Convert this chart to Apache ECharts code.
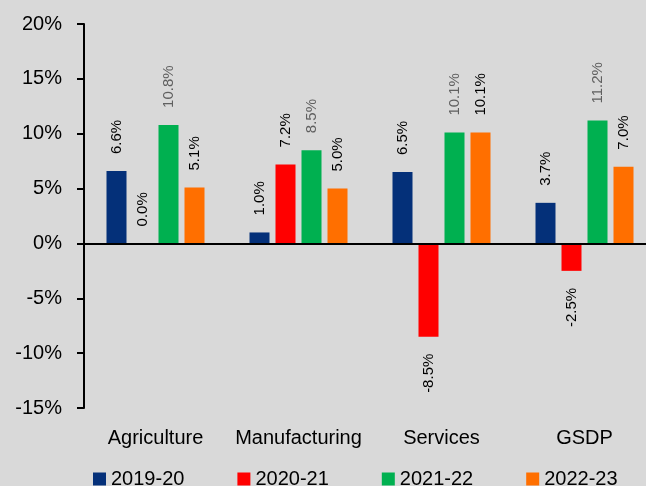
<!DOCTYPE html>
<html>
<head>
<meta charset="utf-8">
<script src="https://cdn.jsdelivr.net/npm/echarts@6/dist/echarts.min.js"></script>
<style>
html,body{margin:0;padding:0;background:#d9d9d9;overflow:hidden;width:646px;height:486px;}
#c{width:656px;height:486px;}
</style>
</head>
<body>
<div id="c"></div>
<script>
var categories = ['Agriculture', 'Manufacturing', 'Services', 'GSDP'];
var seriesNames = ['2019-20', '2020-21', '2021-22', '2022-23'];
var v2019 = [6.6, 1.0, 6.5, 3.7];
var v2020 = [0.0, 7.2, -8.5, -2.5];
var v2021 = [10.8, 8.5, 10.1, 11.2];
var v2022 = [5.1, 5.0, 10.1, 7.0];
var yTicks = [-15, -10, -5, 0, 5, 10, 15, 20];

var colors = ['#043079', '#ff0000', '#00b050', '#ff6f00'];
var labelColors = ['#000000', '#000000', '#606060', '#000000'];
var allValues = [v2019, v2020, v2021, v2022];
var FONT = 'Liberation Sans, Arial, sans-serif';

function buildData(vals) {
  return vals.map(function (v) {
    if (v < 0) {
      return { value: v, label: { position: 'bottom', align: 'right' } };
    }
    return { value: v };
  });
}

var series = seriesNames.map(function (name, i) {
  var s = {
    name: name,
    type: 'bar',
    barWidth: 20,
    barGap: '30%',
    itemStyle: { color: colors[i] },
    data: buildData(allValues[i]),
    label: {
      show: true,
      position: 'top',
      rotate: 90,
      align: 'left',
      verticalAlign: 'middle',
      distance: 17,
      fontFamily: FONT,
      fontSize: 15,
      color: labelColors[i],
      formatter: function (p) { return p.value.toFixed(1) + '%'; }
    }
  };
  if (i === 0) {
    s.markLine = {
      silent: true,
      symbol: ['none', 'none'],
      label: { show: false },
      lineStyle: { color: '#000', width: 2, type: 'solid' },
      data: [{ yAxis: 0 }]
    };
  }
  return s;
});

var chart = echarts.init(document.getElementById('c'));
chart.setOption({
  backgroundColor: '#d9d9d9',
  animation: false,
  grid: { left: 84, top: 24, bottom: 78, right: 0 },
  legend: {
    data: seriesNames,
    left: 88,
    top: 464,
    icon: 'rect',
    itemWidth: 13,
    itemHeight: 13,
    itemGap: 53,
    textStyle: { fontFamily: FONT, fontSize: 20, color: '#000' }
  },
  xAxis: {
    type: 'category',
    data: categories,
    axisLine: { show: false, onZero: false },
    axisTick: { show: false },
    axisLabel: { interval: 0, fontFamily: FONT, fontSize: 20, color: '#000', margin: 20 }
  },
  yAxis: {
    type: 'value',
    min: yTicks[0],
    max: yTicks[yTicks.length - 1],
    interval: 5,
    splitLine: { show: false },
    axisLine: { show: true, lineStyle: { color: '#000', width: 2 } },
    axisTick: { show: true, length: 7, lineStyle: { color: '#000', width: 2 } },
    axisLabel: {
      fontFamily: FONT, fontSize: 20, color: '#000', margin: 22,
      formatter: function (v) { return v + '%'; }
    }
  },
  series: series
});
</script>
</body>
</html>
